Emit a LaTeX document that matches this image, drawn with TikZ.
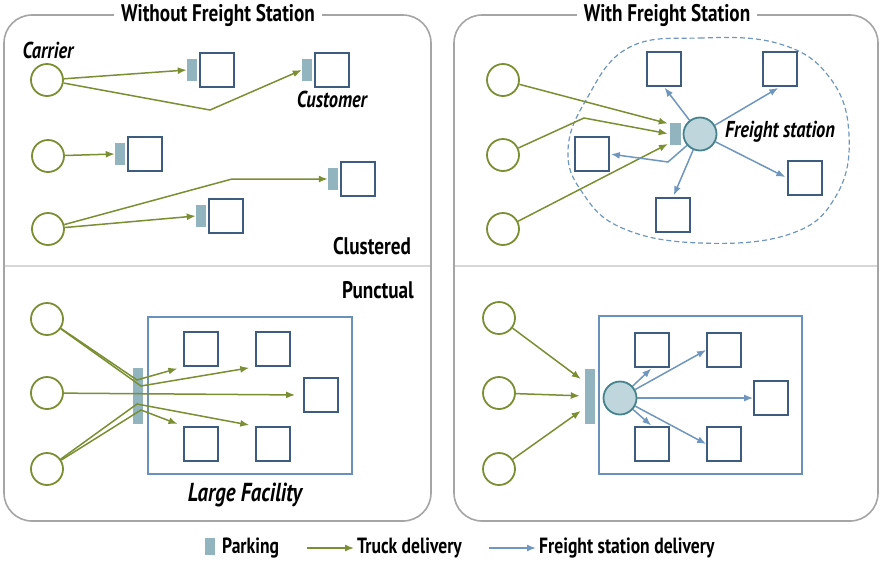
\documentclass[tikz,border=0pt]{standalone}
\usepackage{fontspec}
\newfontfamily\agency[FakeStretch=0.8]{PT Sans}
\usepackage{tikz}
\usetikzlibrary{positioning, calc, arrows.meta}

\definecolor{truckgreen}{RGB}{122,142,50}
\definecolor{parkblue}{RGB}{145,180,190}
\definecolor{custblue}{RGB}{62,92,125}
\definecolor{facblue}{RGB}{105,145,185}
\definecolor{fsblue}{RGB}{110,150,190}
\definecolor{stationfill}{RGB}{190,214,220}
\definecolor{stationedge}{RGB}{70,130,140}
\definecolor{framegray}{RGB}{165,165,165}
\definecolor{divgray}{RGB}{215,215,215}

\begin{document}
\begin{tikzpicture}[x=1pt, y=-1pt,
	carrier/.style={circle, draw=truckgreen, line width=1.8pt, minimum size=32pt, inner sep=0pt},
	cust/.style={rectangle, draw=custblue, line width=1.7pt, minimum size=34pt, inner sep=0pt},
	parking/.style={rectangle, fill=parkblue, minimum width=10pt, minimum height=22pt, inner sep=0pt},
	station/.style={circle, draw=stationedge, fill=stationfill, line width=1.8pt, minimum size=33pt, inner sep=0pt},
	facility/.style={rectangle, draw=facblue, line width=2pt, inner sep=0pt},
	truck/.style={-{Latex[length=9pt,width=7pt]}, draw=truckgreen, line width=1.5pt},
	fsd/.style={-{Latex[length=9pt,width=7pt]}, draw=fsblue, line width=1.5pt},
	panel/.style={draw=framegray, line width=1.6pt, rounded corners=28pt},
	title/.style={fill=white, font=\agency\bfseries\fontsize{24}{26}\selectfont, inner xsep=7pt},
	kind/.style={font=\agency\bfseries\fontsize{24}{26}\selectfont},
	tag/.style={font=\agency\bfseries\itshape\fontsize{23}{25}\selectfont},
	legend/.style={font=\agency\bfseries\fontsize{22}{24}\selectfont, inner sep=3pt}]
	\useasboundingbox (0,0) rectangle (882,563);

	% panels
	\draw[panel] (4,15) rectangle (431,521);
	\draw[panel] (454,15) rectangle (878,521);
	\draw[divgray, line width=2pt] (5,266) -- (430,266);
	\draw[divgray, line width=2pt] (455,266) -- (877,266);
	\node[title] (titlewithout) at (218,15) {Without Freight Station};
	\node[title] (titlewith) at (667,15) {With Freight Station};

	% without station, clustered
	\node[carrier] (c1) at (47,80) {};
	\node[carrier] (c2) at (48,156) {};
	\node[carrier] (c3) at (48,229) {};
	\node[tag] (carrierlbl) at (48,50) {Carrier};
	\node[cust] (k1) at (217,70) {};
	\node[cust] (k2) at (332,70) {};
	\node[cust] (k3) at (145,154) {};
	\node[cust] (k4) at (358,179) {};
	\node[cust] (k5) at (226,216) {};
	\node[parking, left=2pt of k1] (p1) {};
	\node[parking, left=2pt of k2] (p2) {};
	\node[parking, left=2pt of k3] (p3) {};
	\node[parking, left=2pt of k4] (p4) {};
	\node[parking, left=2pt of k5] (p5) {};
	\node[tag] (custlbl) at (332,99) {Customer};
	\node[kind] (clustered) at (372,246) {Clustered};
	\coordinate (e1) at (210,110);
	\coordinate (e2) at (232,179);
	\draw[truck] (c1) -- (p1.west);
	\draw[truck] (c1) -- (e1) -- (p2.west);
	\draw[truck] (c2) -- (p3.west);
	\draw[truck] (c3) -- (e2) -- (p4.west);
	\draw[truck] (c3) -- (p5.west);

	% without station, punctual
	\node[kind] (punctual) at (378,290) {Punctual};
	\node[carrier] (d1) at (47,319) {};
	\node[carrier] (d2) at (47,393) {};
	\node[carrier] (d3) at (47,469) {};
	\node[facility, minimum width=204pt, minimum height=157pt] (fac1) at (250,395) {};
	\node[parking, minimum height=56pt] (pb1) at (138,396) {};
	\node[cust] (f1) at (201,349) {};
	\node[cust] (f2) at (273,349) {};
	\node[cust] (f3) at (321,395) {};
	\node[cust] (f4) at (201,444) {};
	\node[cust] (f5) at (273,444) {};
	\node[tag, font=\agency\bfseries\itshape\fontsize{26}{28}\selectfont] (faclbl) at (245,495) {Large Facility};
	\coordinate (a1) at (137,380);
	\coordinate (a2) at (141,386);
	\coordinate (a3) at (137,404);
	\coordinate (a4) at (141,410);
	\draw[truck, shorten >=6pt] (d1) -- (a1) -- (f1.south west);
	\draw[truck, shorten >=6pt] (d1) -- (a2) -- (f2.south west);
	\draw[truck, shorten >=8pt] (d2) -- (f3.west);
	\draw[truck, shorten >=6pt] (d3) -- (a3) -- (f5.north west);
	\draw[truck, shorten >=6pt] (d3) -- (a4) -- (f4.north west);

	% with station, clustered
	\draw[fsblue, line width=1.2pt, dash pattern=on 5pt off 3pt] plot[smooth cycle, tension=0.7]
		coordinates {(628,48) (700,38) (780,44) (830,78) (849,135) (836,196) (790,234) (700,243) (622,228) (582,192) (568,150) (586,100)};
	\node[carrier] (r1) at (503,80) {};
	\node[carrier] (r2) at (503,155) {};
	\node[carrier] (r3) at (503,229) {};
	\node[station] (fs1) at (700,134) {};
	\node[parking, minimum width=11pt, left=1.5pt of fs1] (q1) {};
	\node[tag] (fslbl) at (780,132) {Freight station};
	\node[cust] (s1) at (664,69) {};
	\node[cust] (s2) at (780,69) {};
	\node[cust] (s3) at (592,154) {};
	\node[cust] (s4) at (805,178) {};
	\node[cust] (s5) at (673,215) {};
	\coordinate (e3) at (584,118);
	\coordinate (e4) at (668,162);
	\draw[truck, shorten >=2pt] (r1) -- ([yshift=10pt]q1.west);
	\draw[truck, shorten >=2pt] (r2) -- (e3) -- (q1.west);
	\draw[truck, shorten >=2pt] (r3) -- ([yshift=-9pt]q1.west);
	\draw[fsd, shorten >=1pt] (fs1) -- (s1.south);
	\draw[fsd, shorten >=2pt] (fs1) -- (s2.south);
	\draw[fsd, shorten >=1pt] (fs1) -- (e4) -- (s3.east);
	\draw[fsd, shorten >=2pt] (fs1) -- (s4.west);
	\draw[fsd, shorten >=2pt] (fs1) -- (s5.north);

	% with station, punctual
	\node[carrier] (g1) at (499,318) {};
	\node[carrier] (g2) at (499,393) {};
	\node[carrier] (g3) at (499,469) {};
	\node[facility, minimum width=203pt, minimum height=158pt] (fac2) at (700,395) {};
	\node[parking, minimum height=55pt] (pb2) at (590,396) {};
	\node[station] (fs2) at (620,398) {};
	\node[cust] (h1) at (652,350) {};
	\node[cust] (h2) at (724,350) {};
	\node[cust] (h3) at (771,398) {};
	\node[cust] (h4) at (652,444) {};
	\node[cust] (h5) at (724,444) {};
	\draw[truck, shorten >=5pt] (g1) -- ([yshift=14pt]pb2.west);
	\draw[truck, shorten >=5pt] (g2) -- (pb2.west);
	\draw[truck, shorten >=5pt] (g3) -- ([yshift=-12pt]pb2.west);
	\draw[fsd, shorten >=1pt] (fs2) -- (h1.south);
	\draw[fsd] (fs2) -- (h2.west);
	\draw[fsd] (fs2) -- (h3.west);
	\draw[fsd, shorten >=1pt] (fs2) -- (h4.north);
	\draw[fsd] (fs2) -- (h5.west);

	% legend
	\node[parking, minimum height=17pt] (lpark) at (210,546) {};
	\node[legend, anchor=west] (lparktxt) at (219,548) {Parking};
	\coordinate (ltruck0) at (307,548);
	\node[legend, anchor=west] (ltrucktxt) at (354,548) {Truck delivery};
	\draw[truck] (ltruck0) -- (ltrucktxt.west);
	\coordinate (lfs0) at (489,548);
	\node[legend, anchor=west] (lfstxt) at (536,548) {Freight station delivery};
	\draw[fsd] (lfs0) -- (lfstxt.west);
\end{tikzpicture}
\end{document}
